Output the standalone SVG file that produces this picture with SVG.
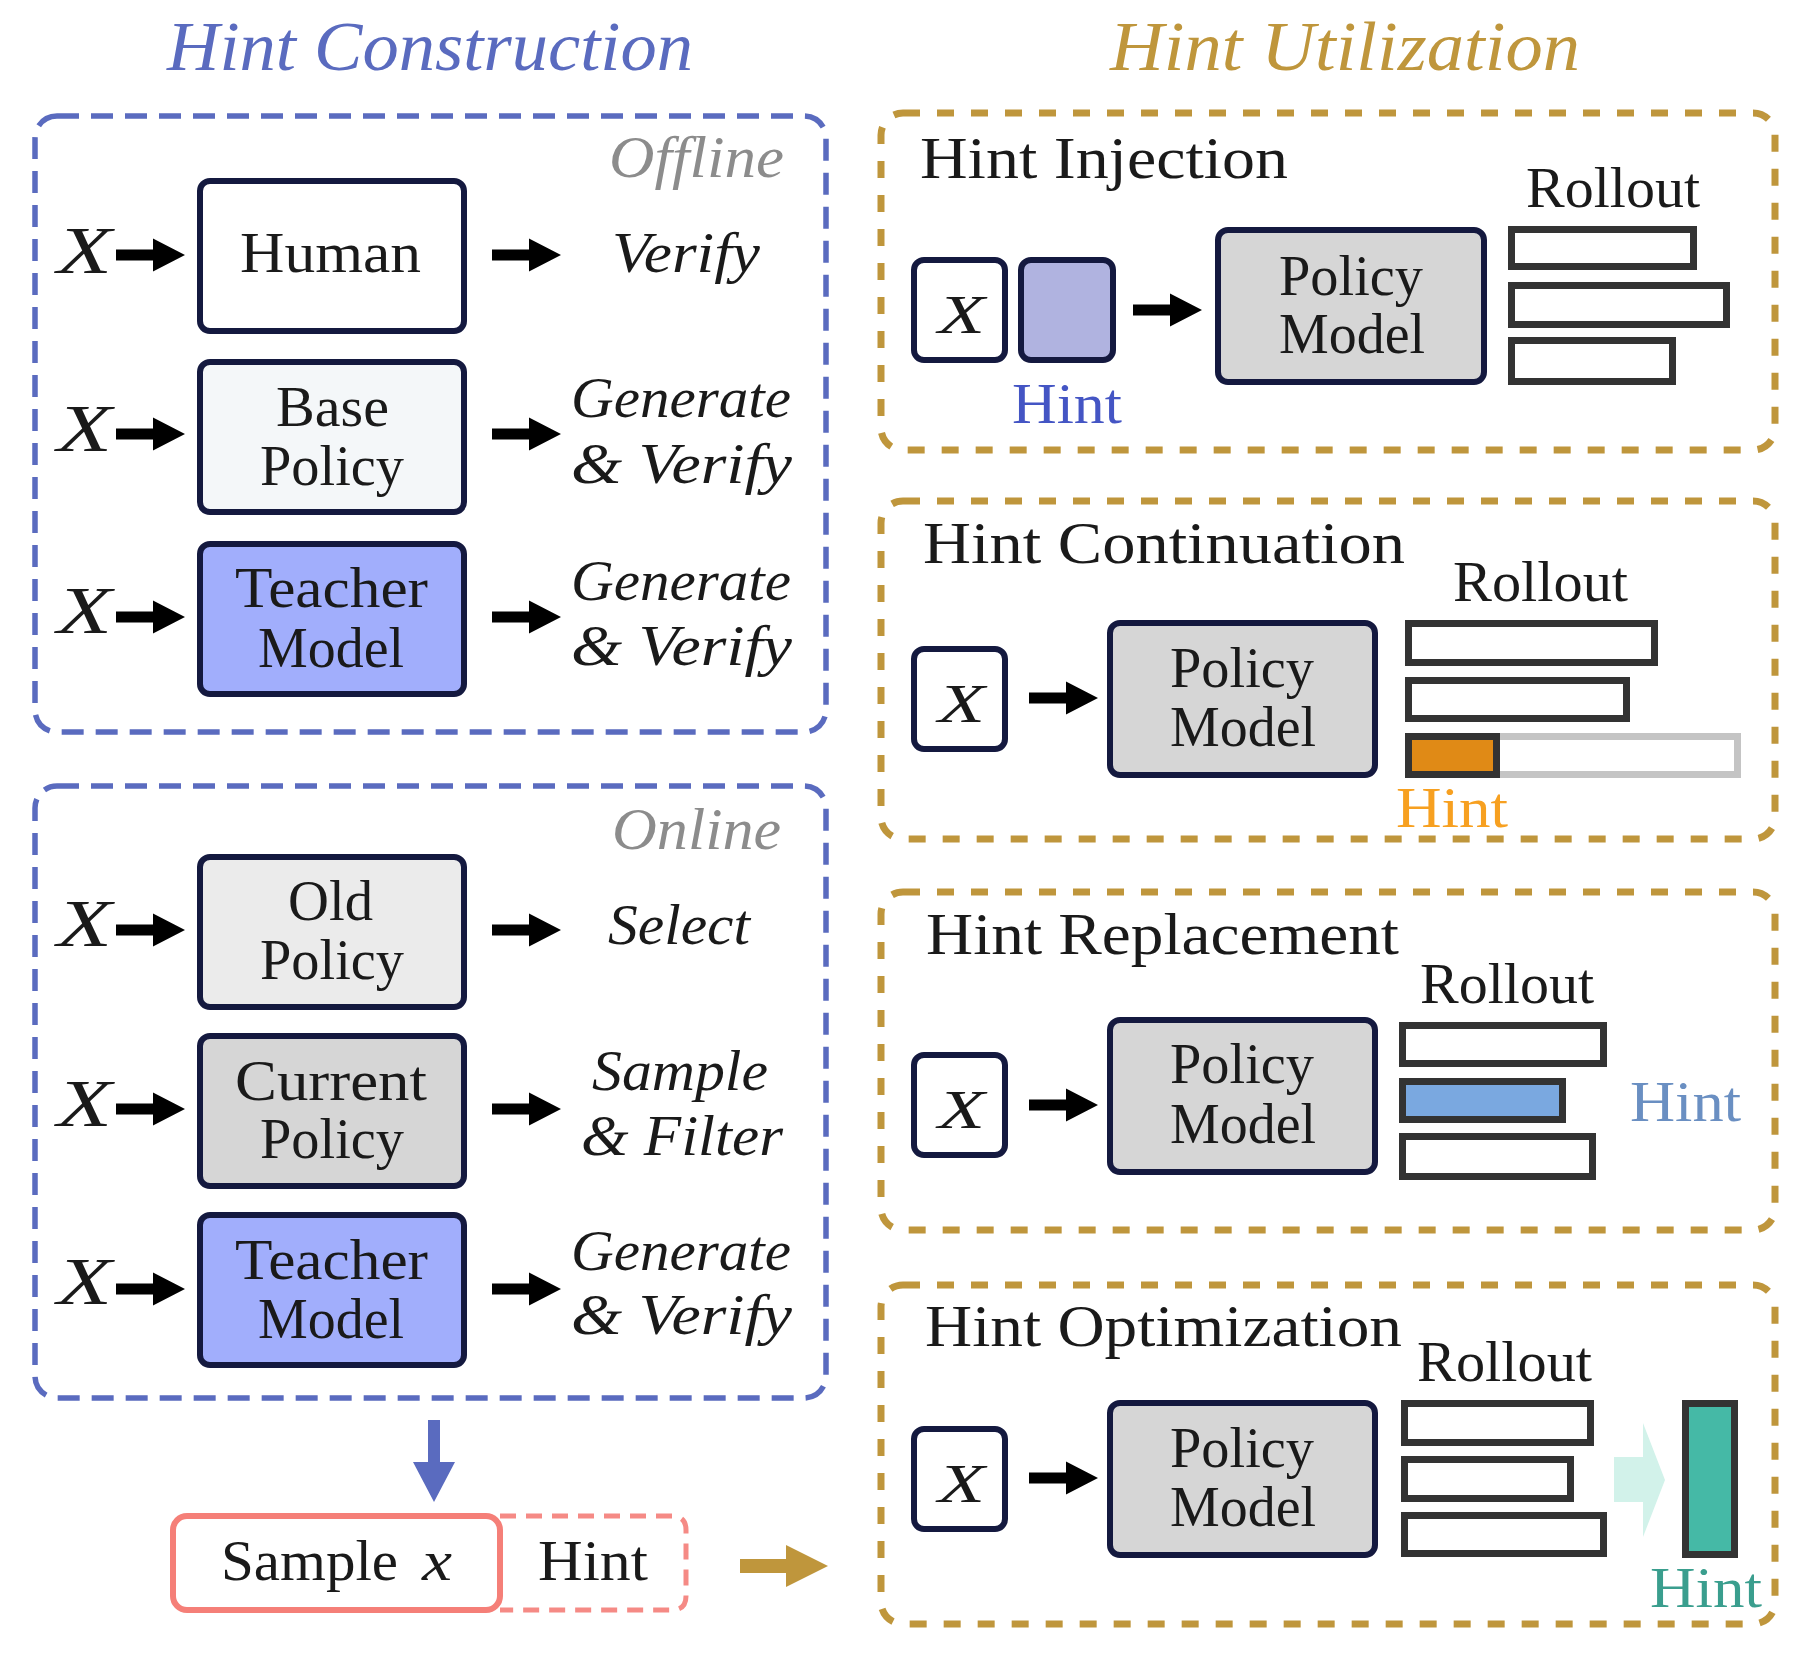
<svg xmlns="http://www.w3.org/2000/svg" xmlns:xlink="http://www.w3.org/1999/xlink" width="1804" height="1655" viewBox="0 0 1804 1655">
<style>
.t{font-family:"Liberation Serif","DejaVu Serif",serif;fill:#1a1a1a}
.i{font-style:italic}
.c{text-anchor:middle}
.n{font-size:57px}
.lab{font-size:57px}
.node{stroke:#14193f;stroke-width:6}
.bar{fill:#fff;stroke:#333;stroke-width:7}
.dashB{fill:none;stroke:#5a6bbf;stroke-width:5.5;stroke-dasharray:22 12}
.dashG{fill:none;stroke:#bf963c;stroke-width:7;stroke-dasharray:17 17}
.gray{fill:#8c8c8c}
</style>
<defs>
<path id="arr" d="M0,-5.5 H37 V-16.5 L69,0 L37,16.5 V5.5 H0 Z" fill="#000"/>
</defs>
<rect width="1804" height="1655" fill="#fff"/>

<!-- titles -->
<text class="t i" x="167" y="70" font-size="70" fill="#5a6bbf" style="fill:#5a6bbf" textLength="526" lengthAdjust="spacingAndGlyphs">Hint Construction</text>
<text class="t i" x="1110" y="70" font-size="70" style="fill:#bf963c" textLength="470" lengthAdjust="spacingAndGlyphs">Hint Utilization</text>

<!-- containers -->
<g id="offline">
<rect class="dashB" x="35" y="116" width="791" height="616" rx="22"/>
<text class="t i gray" x="609" y="177" font-size="60" style="fill:#8c8c8c" textLength="175" lengthAdjust="spacingAndGlyphs">Offline</text>
</g>
<g id="online">
<rect class="dashB" x="35" y="786" width="791" height="612" rx="22"/>
<text class="t i gray" x="612" y="849" font-size="60" style="fill:#8c8c8c" textLength="169" lengthAdjust="spacingAndGlyphs">Online</text>
</g>

<!-- offline rows -->
<g id="x-off-1"><text class="t i" x="57" y="273" font-size="68" textLength="55" lengthAdjust="spacingAndGlyphs">X</text></g>
<g id="human"><rect class="node" x="200" y="181" width="264" height="150" rx="10" fill="#fff"/>
<text class="t n" x="240" y="272" textLength="181" lengthAdjust="spacingAndGlyphs">Human</text></g>
<g id="verify-1"><text class="t i lab" x="612" y="272" textLength="148" lengthAdjust="spacingAndGlyphs">Verify</text></g>

<g id="x-off-2"><text class="t i" x="57" y="451" font-size="68" textLength="55" lengthAdjust="spacingAndGlyphs">X</text></g>
<g id="base-policy"><rect class="node" x="200" y="362" width="264" height="150" rx="10" fill="#f4f7f9"/>
<text class="t n" x="276" y="426" textLength="113" lengthAdjust="spacingAndGlyphs">Base</text>
<text class="t n" x="260" y="485" textLength="144" lengthAdjust="spacingAndGlyphs">Policy</text></g>
<g id="gen-verify-1"><text class="t i lab" x="571" y="417" textLength="220" lengthAdjust="spacingAndGlyphs">Generate</text>
<text class="t i lab" x="571" y="483" textLength="221" lengthAdjust="spacingAndGlyphs">&amp; Verify</text></g>

<g id="x-off-3"><text class="t i" x="57" y="633" font-size="68" textLength="55" lengthAdjust="spacingAndGlyphs">X</text></g>
<g id="teacher-off"><rect class="node" x="200" y="544" width="264" height="150" rx="10" fill="#a1aefc"/>
<text class="t n" x="235" y="607" textLength="193" lengthAdjust="spacingAndGlyphs">Teacher</text>
<text class="t n" x="258" y="667" textLength="146" lengthAdjust="spacingAndGlyphs">Model</text></g>
<g id="gen-verify-2"><text class="t i lab" x="571" y="600" textLength="220" lengthAdjust="spacingAndGlyphs">Generate</text>
<text class="t i lab" x="571" y="665" textLength="221" lengthAdjust="spacingAndGlyphs">&amp; Verify</text></g>

<!-- online rows -->
<g id="x-on-1"><text class="t i" x="57" y="946" font-size="68" textLength="55" lengthAdjust="spacingAndGlyphs">X</text></g>
<g id="old-policy"><rect class="node" x="200" y="857" width="264" height="150" rx="10" fill="#ebebeb"/>
<text class="t n" x="288" y="920" textLength="85" lengthAdjust="spacingAndGlyphs">Old</text>
<text class="t n" x="260" y="979" textLength="144" lengthAdjust="spacingAndGlyphs">Policy</text></g>
<g id="select"><text class="t i lab" x="608" y="944" textLength="142" lengthAdjust="spacingAndGlyphs">Select</text></g>

<g id="x-on-2"><text class="t i" x="57" y="1126" font-size="68" textLength="55" lengthAdjust="spacingAndGlyphs">X</text></g>
<g id="current-policy"><rect class="node" x="200" y="1036" width="264" height="150" rx="10" fill="#d6d6d6"/>
<text class="t n" x="235" y="1100" textLength="192" lengthAdjust="spacingAndGlyphs">Current</text>
<text class="t n" x="260" y="1158" textLength="144" lengthAdjust="spacingAndGlyphs">Policy</text></g>
<g id="sample-filter"><text class="t i lab" x="592" y="1090" textLength="176" lengthAdjust="spacingAndGlyphs">Sample</text>
<text class="t i lab" x="581" y="1155" textLength="202" lengthAdjust="spacingAndGlyphs">&amp; Filter</text></g>

<g id="x-on-3"><text class="t i" x="57" y="1304" font-size="68" textLength="55" lengthAdjust="spacingAndGlyphs">X</text></g>
<g id="teacher-on"><rect class="node" x="200" y="1215" width="264" height="150" rx="10" fill="#a1aefc"/>
<text class="t n" x="235" y="1279" textLength="193" lengthAdjust="spacingAndGlyphs">Teacher</text>
<text class="t n" x="258" y="1338" textLength="146" lengthAdjust="spacingAndGlyphs">Model</text></g>
<g id="gen-verify-3"><text class="t i lab" x="571" y="1270" textLength="220" lengthAdjust="spacingAndGlyphs">Generate</text>
<text class="t i lab" x="571" y="1334" textLength="221" lengthAdjust="spacingAndGlyphs">&amp; Verify</text></g>

<!-- sample x / hint -->
<g id="sample-hint">
<path d="M500,1516 H672 Q686,1516 686,1530 V1596 Q686,1610 672,1610 H500" fill="none" stroke="#f58a85" stroke-width="5" stroke-dasharray="16 10"/>
<rect x="173" y="1516" width="327" height="94" rx="14" fill="#fff" stroke="#f57f78" stroke-width="6"/>
<text class="t" x="221" y="1580" font-size="58"><tspan textLength="177" lengthAdjust="spacingAndGlyphs">Sample</tspan><tspan x="422" font-style="italic" textLength="30" lengthAdjust="spacingAndGlyphs">x</tspan></text>
<text class="t" x="538" y="1580" font-size="58" textLength="110" lengthAdjust="spacingAndGlyphs">Hint</text>
</g>

<!-- right column: injection -->
<g id="injection">
<rect class="dashG" x="881" y="113" width="894" height="337" rx="22"/>
<text class="t" x="920" y="178" font-size="60" textLength="368" lengthAdjust="spacingAndGlyphs">Hint Injection</text>
<text class="t" x="1526" y="207" font-size="57" textLength="174" lengthAdjust="spacingAndGlyphs">Rollout</text>
<rect class="bar" x="1511.5" y="229.5" width="182" height="37"/>
<rect class="bar" x="1511.5" y="285.5" width="215" height="39"/>
<rect class="bar" x="1511.5" y="340.5" width="161" height="41"/>
</g>
<g id="inj-x"><rect class="node" x="914" y="260" width="91" height="100" rx="10" fill="#fff"/>
<text class="t i" x="938" y="333" font-size="55" textLength="47" lengthAdjust="spacingAndGlyphs">X</text></g>
<g id="inj-hint"><rect class="node" x="1021" y="260" width="92" height="100" rx="10" fill="#b0b3e0"/>
<text class="t" x="1012" y="423" font-size="57" style="fill:#4455c4" textLength="110" lengthAdjust="spacingAndGlyphs">Hint</text></g>
<g id="inj-policy"><rect class="node" x="1218" y="230" width="266" height="152" rx="10" fill="#d6d6d6"/>
<text class="t n" x="1279" y="295" textLength="144" lengthAdjust="spacingAndGlyphs">Policy</text>
<text class="t n" x="1279" y="353" textLength="146" lengthAdjust="spacingAndGlyphs">Model</text></g>

<!-- continuation -->
<g id="continuation">
<rect class="dashG" x="881" y="501" width="894" height="338" rx="22"/>
<text class="t" x="923" y="563" font-size="60" textLength="482" lengthAdjust="spacingAndGlyphs">Hint Continuation</text>
<text class="t" x="1453" y="601" font-size="57" textLength="175" lengthAdjust="spacingAndGlyphs">Rollout</text>
<rect class="bar" x="1408.5" y="623.5" width="246" height="39"/>
<rect class="bar" x="1408.5" y="680.5" width="218" height="38"/>
<rect x="1408.5" y="736.5" width="329" height="38" fill="#fff" stroke="#c4c4c4" stroke-width="7"/>
<rect x="1408.5" y="736.5" width="88" height="38" fill="#e08a16" stroke="#333" stroke-width="7"/>
<text class="t" x="1396" y="827" font-size="57" style="fill:#f7a020" textLength="112" lengthAdjust="spacingAndGlyphs">Hint</text>
</g>
<g id="cont-x"><rect class="node" x="914" y="649" width="91" height="100" rx="10" fill="#fff"/>
<text class="t i" x="938" y="722" font-size="55" textLength="47" lengthAdjust="spacingAndGlyphs">X</text></g>
<g id="cont-policy"><rect class="node" x="1110" y="623" width="265" height="152" rx="10" fill="#d6d6d6"/>
<text class="t n" x="1170" y="687" textLength="144" lengthAdjust="spacingAndGlyphs">Policy</text>
<text class="t n" x="1170" y="746" textLength="146" lengthAdjust="spacingAndGlyphs">Model</text></g>

<!-- replacement -->
<g id="replacement">
<rect class="dashG" x="881" y="892" width="894" height="338" rx="22"/>
<text class="t" x="926" y="954" font-size="60" textLength="473" lengthAdjust="spacingAndGlyphs">Hint Replacement</text>
<text class="t" x="1420" y="1003" font-size="57" textLength="174" lengthAdjust="spacingAndGlyphs">Rollout</text>
<rect class="bar" x="1402.5" y="1025.5" width="201" height="38"/>
<rect class="bar" x="1402.5" y="1081.5" width="160" height="38" style="fill:#7aa8e0"/>
<rect class="bar" x="1402.5" y="1136.5" width="190" height="40"/>
<text class="t" x="1630" y="1121" font-size="57" style="fill:#6a8fc2" textLength="111" lengthAdjust="spacingAndGlyphs">Hint</text>
</g>
<g id="rep-x"><rect class="node" x="914" y="1055" width="91" height="100" rx="10" fill="#fff"/>
<text class="t i" x="938" y="1128" font-size="55" textLength="47" lengthAdjust="spacingAndGlyphs">X</text></g>
<g id="rep-policy"><rect class="node" x="1110" y="1020" width="265" height="152" rx="10" fill="#d6d6d6"/>
<text class="t n" x="1170" y="1083" textLength="144" lengthAdjust="spacingAndGlyphs">Policy</text>
<text class="t n" x="1170" y="1143" textLength="146" lengthAdjust="spacingAndGlyphs">Model</text></g>

<!-- optimization -->
<g id="optimization">
<rect class="dashG" x="881" y="1285" width="894" height="339" rx="22"/>
<text class="t" x="925" y="1346" font-size="60" textLength="477" lengthAdjust="spacingAndGlyphs">Hint Optimization</text>
<text class="t" x="1417" y="1381" font-size="57" textLength="175" lengthAdjust="spacingAndGlyphs">Rollout</text>
<rect class="bar" x="1404.5" y="1403.5" width="186" height="39"/>
<rect class="bar" x="1404.5" y="1459.5" width="166" height="39"/>
<rect class="bar" x="1404.5" y="1515.5" width="199" height="38"/>
<path d="M1614,1457 H1643 V1423 L1665,1480 L1643,1537 V1502 H1614 Z" fill="#d2f2ea"/>
<rect x="1685.5" y="1403.5" width="49" height="151" fill="#45b9a6" stroke="#333" stroke-width="7"/>
<text class="t" x="1650" y="1607" font-size="57" style="fill:#3a9e8e" textLength="112" lengthAdjust="spacingAndGlyphs">Hint</text>
</g>
<g id="opt-x"><rect class="node" x="914" y="1429" width="91" height="100" rx="10" fill="#fff"/>
<text class="t i" x="938" y="1502" font-size="55" textLength="47" lengthAdjust="spacingAndGlyphs">X</text></g>
<g id="opt-policy"><rect class="node" x="1110" y="1403" width="265" height="152" rx="10" fill="#d6d6d6"/>
<text class="t n" x="1170" y="1467" textLength="144" lengthAdjust="spacingAndGlyphs">Policy</text>
<text class="t n" x="1170" y="1526" textLength="146" lengthAdjust="spacingAndGlyphs">Model</text></g>

<!-- connectors -->
<g id="connectors">
<use xlink:href="#arr" href="#arr" x="116" y="255"/>
<use xlink:href="#arr" href="#arr" x="492" y="255"/>
<use xlink:href="#arr" href="#arr" x="116" y="434"/>
<use xlink:href="#arr" href="#arr" x="492" y="434"/>
<use xlink:href="#arr" href="#arr" x="116" y="617"/>
<use xlink:href="#arr" href="#arr" x="492" y="617"/>
<use xlink:href="#arr" href="#arr" x="116" y="930"/>
<use xlink:href="#arr" href="#arr" x="492" y="930"/>
<use xlink:href="#arr" href="#arr" x="116" y="1109"/>
<use xlink:href="#arr" href="#arr" x="492" y="1109"/>
<use xlink:href="#arr" href="#arr" x="116" y="1289"/>
<use xlink:href="#arr" href="#arr" x="492" y="1289"/>
<use xlink:href="#arr" href="#arr" x="1133" y="310"/>
<use xlink:href="#arr" href="#arr" x="1029" y="698"/>
<use xlink:href="#arr" href="#arr" x="1029" y="1105"/>
<use xlink:href="#arr" href="#arr" x="1029" y="1478"/>
<path d="M428,1420 H440 V1462 H455 L434,1502 L413,1462 H428 Z" fill="#5a6bbf"/>
<path d="M740,1559 H786 V1545 L828,1566 L786,1587 V1573 H740 Z" fill="#bf963c"/>
</g>
</svg>
